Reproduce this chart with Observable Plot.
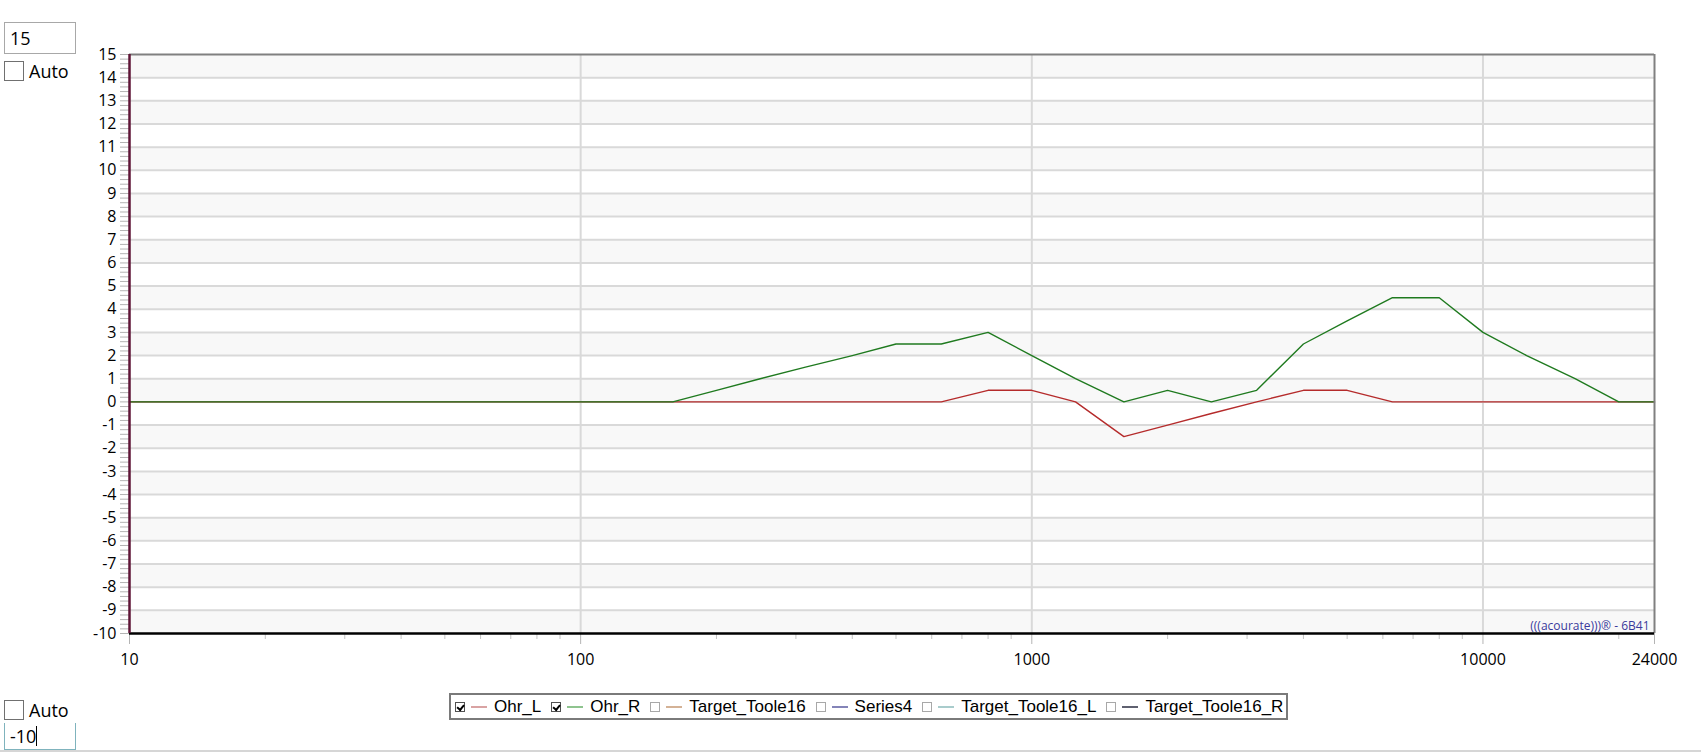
<!DOCTYPE html>
<html><head><meta charset="utf-8">
<script src="https://cdn.jsdelivr.net/npm/d3@7"></script>
<script src="https://cdn.jsdelivr.net/npm/@observablehq/plot@0.6"></script>
<style>
html,body{margin:0;padding:0;background:#fff;}
#page{position:relative;width:1701px;height:752px;overflow:hidden;font-family:"Segoe UI","Open Sans","Noto Sans",sans-serif;color:#000;}
#chart{position:absolute;left:0;top:0;}
.inp{position:absolute;left:4px;width:72px;box-sizing:border-box;font-size:18px;line-height:1;padding-left:5px;background:#fff;}
.cb{position:absolute;box-sizing:border-box;border:1px solid #707070;background:#fff;}
.auto{position:absolute;font-size:18px;line-height:1;}
#legend{position:absolute;left:449px;top:693px;width:839px;height:27px;box-sizing:border-box;border:2px solid #7a7a7a;display:flex;align-items:center;padding-left:4px;font-family:"Liberation Sans",Arial,sans-serif;font-size:17px;white-space:nowrap;}
.li{display:flex;align-items:center;margin-right:10px;}
.lcb{width:10px;height:10px;box-sizing:border-box;border:1px solid #a8a8a8;position:relative;}
.lcb.on{border-color:#505050;}
.lcb.on::after{content:"";position:absolute;left:1px;top:0px;width:5px;height:3px;border-left:2px solid #000;border-bottom:2px solid #000;transform:rotate(-50deg) translate(-1px,1px);}
.lsw{width:16px;height:2px;margin-left:6px;margin-right:7px;}
#bottomline{position:absolute;left:0;top:750px;width:1701px;height:2px;background:#d6d6d6;}
</style></head><body><div id="page">
<div id="chart"></div>
<div class="inp" style="top:22px;height:32px;border:1px solid #a8a8a8;padding-top:6px;">15</div>
<div class="cb" style="left:4px;top:61px;width:20px;height:20px;"></div>
<div class="auto" style="left:29px;top:62px;">Auto</div>
<div class="cb" style="left:4px;top:700px;width:20px;height:20px;"></div>
<div class="auto" style="left:29px;top:701px;">Auto</div>
<div class="inp" style="top:723px;height:27px;border:1px solid #7fb3bd;border-top:none;padding-top:3px;">-10<span style="display:inline-block;width:1px;height:20px;background:#000;vertical-align:-3px;"></span></div>
<div id="legend"></div>
<div id="bottomline"></div>
</div>
<script>
// Data (frequency in Hz, level in dB)
const freqs = [10, 160, 200, 250, 315, 400, 500, 630, 800, 1000, 1250, 1600, 2000, 2500, 3150, 4000, 5000, 6300, 8000, 10000, 12500, 16000, 20000, 24000];
const ohrL  = [0, 0, 0, 0, 0, 0, 0, 0, 0.5, 0.5, 0, -1.5, -1, -0.5, 0, 0.5, 0.5, 0, 0, 0, 0, 0, 0, 0];
const ohrR  = [0, 0, 0.5, 1, 1.5, 2, 2.5, 2.5, 3, 2, 1, 0, 0.5, 0, 0.5, 2.5, 3.5, 4.5, 4.5, 3, 2, 1, 0, 0];
const xTickLabels = [10, 100, 1000, 10000, 24000];
const xGrid = [100, 1000, 10000];
const yTicks = [-10,-9,-8,-7,-6,-5,-4,-3,-2,-1,0,1,2,3,4,5,6,7,8,9,10,11,12,13,14,15];
const legendNames = ["Ohr_L", "Ohr_R", "Target_Toole16", "Series4", "Target_Toole16_L", "Target_Toole16_R"];
const legendChecked = [true, true, false, false, false, false];
const legendColors = ["#d9a3a3", "#8fc48f", "#d4b296", "#8484b8", "#a9cccc", "#5f6170"];
const watermark = "(((acourate)))® - 6B41";

const xMin = 10, xMax = 24000, yMin = -10, yMax = 15;
const rowsL = freqs.map((f, i) => ({f, v: ohrL[i]}));
const rowsR = freqs.map((f, i) => ({f, v: ohrR[i]}));
const bands = yTicks.filter(v => v < yMax && (v - yMin) % 2 === 0);
const minorY = d3.range(yMin * 5, yMax * 5 + 1).map(v => v / 5);
const minorX = [];
for (const d of [10, 100, 1000, 10000]) for (let k = 2; k <= 9; k++) if (d * k < xMax) minorX.push(d * k);

const plot = Plot.plot({
  width: 1701, height: 680,
  marginLeft: 129, marginRight: 47, marginTop: 54, marginBottom: 47,
  x: {type: "log", domain: [xMin, xMax], label: null},
  y: {domain: [yMin, yMax], label: null},
  style: {fontFamily: '"Segoe UI","Open Sans","Noto Sans",sans-serif', fontSize: "16px", color: "#000", background: "transparent", overflow: "visible"},
  marks: [
    Plot.rect(bands, {x1: xMin, x2: xMax, y1: d => d, y2: d => d + 1, fill: "#f8f8f8"}),
    Plot.ruleY(yTicks.filter(v => v > yMin && v < yMax), {stroke: "#d9d9d9", strokeWidth: 2}),
    Plot.ruleX(xGrid, {stroke: "#d9d9d9", strokeWidth: 2}),
    Plot.line(rowsL, {x: "f", y: "v", stroke: "#b52b2b", strokeWidth: 1.4}),
    Plot.line(rowsR, {x: "f", y: "v", stroke: "#1f7a1f", strokeWidth: 1.4}),
    Plot.axisY({ticks: minorY, tickSize: 9, stroke: "#b4b4b4", tickFormat: () => "", anchor: "left"}),
    Plot.axisY({ticks: yTicks, tickSize: 0, tickPadding: 13, anchor: "left", tickFormat: d => String(d)}),
    Plot.axisX({ticks: minorX, tickSize: 6, stroke: "#c4c4c4", tickFormat: () => "", anchor: "bottom"}),
    Plot.axisX({ticks: xTickLabels, tickSize: 11, stroke: "#b4b4b4", tickPadding: 9, anchor: "bottom", tickFormat: d => String(d)}),
    Plot.ruleY([yMax], {stroke: "#808080", strokeWidth: 2}),
    Plot.ruleX([xMax], {stroke: "#808080", strokeWidth: 2}),
    Plot.ruleY([yMin], {stroke: "#000", strokeWidth: 2.5}),
    Plot.ruleX([xMin], {stroke: "#5e1436", strokeWidth: 2.5}),
    Plot.text([watermark], {text: d => d, frameAnchor: "bottom-right", dx: -5, dy: -4, fill: "#3a3a9c", fontSize: 12})
  ]
});
document.getElementById("chart").appendChild(plot);

const lg = document.getElementById("legend");
legendNames.forEach((n, i) => {
  const it = document.createElement("div"); it.className = "li";
  const cb = document.createElement("div"); cb.className = "lcb" + (legendChecked[i] ? " on" : "");
  const sw = document.createElement("div"); sw.className = "lsw"; sw.style.background = legendColors[i];
  const tx = document.createElement("span"); tx.textContent = n;
  it.append(cb, sw, tx); lg.appendChild(it);
});
</script></body></html>
